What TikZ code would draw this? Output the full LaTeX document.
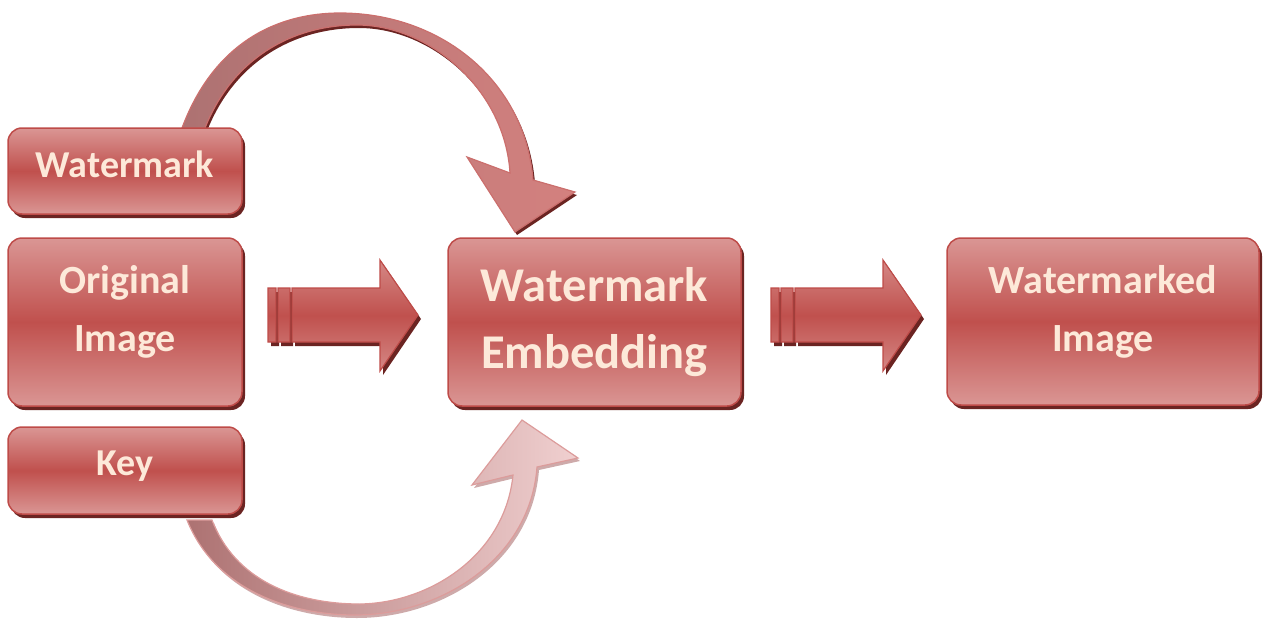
\documentclass[tikz,border=0pt]{standalone}
\usepackage{fontspec}
\setmainfont{Carlito}
\usetikzlibrary{shadows,calc}
\definecolor{boxred}{HTML}{C0504D}
\definecolor{boxlight}{HTML}{DA9694}
\definecolor{edgered}{HTML}{BE4B48}
\definecolor{shadowred}{HTML}{6B2422}
\definecolor{txt}{HTML}{FDE9D9}
\definecolor{arcgrey}{HTML}{AD7272}
\definecolor{arcpink}{HTML}{D4817F}
\definecolor{arcpinkb}{HTML}{DC9C9B}
\definecolor{arclight}{HTML}{F0D0D0}
\tikzset{
  box/.style={rounded corners=14pt, draw=edgered, line width=1.5pt,
    top color=boxlight, bottom color=boxlight, middle color=boxred,
    text=txt, align=center, inner sep=0pt,
    drop shadow={shadow xshift=3pt, shadow yshift=-4pt, fill=shadowred, opacity=1}},
  smallfont/.style={font=\fontsize{38}{46}\selectfont\bfseries},
  midfont/.style={font=\fontsize{40}{58}\selectfont\bfseries},
  bigfont/.style={font=\fontsize{48.5}{67}\selectfont\bfseries},
  blockfill/.style={draw=edgered, line width=1.2pt, top color=boxlight!80!boxred, bottom color=boxlight!80!boxred, middle color=boxred},
  blockshadow/.style={fill=shadowred},
  arcline/.style={draw=edgered!80!white, line width=1.2pt},
}
\newcommand\toparc{(182,128) .. controls (215,40) and (280,13) .. (340,13)
  .. controls (440,13) and (525,80) .. (533,180) -- (575,192) -- (515,232) -- (467,157) -- (510,173)
  .. controls (505,90) and (430,25) .. (357,25) .. controls (290,25) and (232,60) .. (205,128) -- cycle}
\newcommand\botarc{(187,520) .. controls (215,590) and (290,615) .. (355,615)
  .. controls (440,615) and (530,560) .. (537,467) -- (578,458) -- (522,420) -- (472,485) -- (513,475)
  .. controls (505,555) and (430,603) .. (360,604) .. controls (295,604) and (235,580) .. (212,520) -- cycle}
\newcommand\blockarrow{(292,288) -- (380,288) -- (380,260) -- (418,315) -- (380,371) -- (380,342) -- (292,342) -- cycle
  (268,288) rectangle (276,342) (278,288) rectangle (290,342)}
\begin{document}
\begin{tikzpicture}[x=1pt,y=-1pt]
\useasboundingbox (0,0) rectangle (1267,621);
% curved arrows
\fill[shadowred] [shift={(2,3)}] \toparc;
\shade[left color=arcgrey, middle color=boxred, right color=arcpink] \toparc;
\path[arcline] \toparc;
\fill[arcgrey!60!white] [shift={(2,3)}] \botarc;
\shade[left color=arcgrey, middle color=arcpinkb, right color=arclight] \botarc;
\path[arcline, draw=arcpinkb] \botarc;
% block arrows
\foreach \dx in {0,503} {
  \fill[blockshadow, shift={(\dx+3,4)}] \blockarrow;
  \path[blockfill, shift={(\dx,0)}] \blockarrow;
}
% boxes
\node[box, smallfont, text depth=14pt, minimum width=234pt, minimum height=86pt] (wm) at (125,171) {Watermark};
\node[box, midfont, text depth=28pt, minimum width=234pt, minimum height=168pt] (orig) at (125,322) {Original\\Image};
\node[box, smallfont, text depth=14pt, minimum width=234pt, minimum height=87pt] (key) at (125,470.5) {Key};
\node[box, bigfont, minimum width=293pt, minimum height=168pt] (emb) at (594.5,322) {Watermark\\Embedding};
\node[box, midfont, text depth=27pt, minimum width=312pt, minimum height=167pt] (out) at (1103,321.5) {Watermarked\\Image};
\end{tikzpicture}
\end{document}
